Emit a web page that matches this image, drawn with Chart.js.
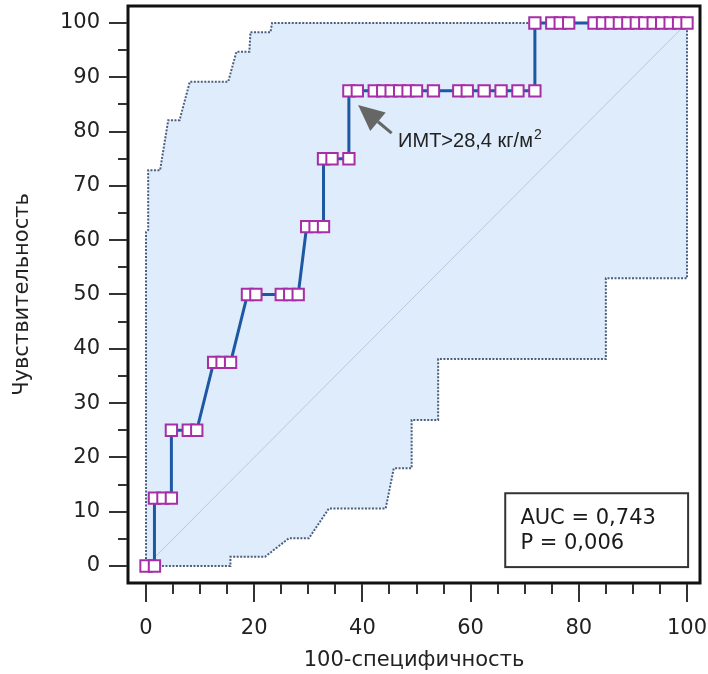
<!DOCTYPE html>
<html>
<head>
<meta charset="utf-8">
<script src="https://cdn.jsdelivr.net/npm/chart.js@4.4.1/dist/chart.umd.min.js"></script>
<style>
  html, body { margin: 0; padding: 0; background: #fff; }
  #wrap { width: 708px; height: 674px; }
</style>
</head>
<body>
<div id="wrap"><canvas id="roc" width="708" height="674"></canvas></div>
<script>
// ROC-кривая: 100-специфичность (x) против чувствительности (y)
const rocX = [0, 1.56, 1.56, 3.13, 4.69, 4.69, 7.81, 9.38, 12.5, 14.06, 15.63,
  18.75, 20.31, 25, 26.56, 28.13, 29.69, 31.25, 32.81, 32.81, 34.38, 37.5,
  37.5, 39.06, 42.19, 43.75, 45.31, 46.88, 48.44, 50, 53.13, 57.81, 59.38, 62.5, 65.63, 68.75, 71.88,
  71.88, 75, 76.56, 78.13, 82.81, 84.38, 85.94, 87.5, 89.06, 90.63, 92.19, 93.75, 95.31, 96.88, 98.44, 100];
const rocY = [0, 0, 12.5, 12.5, 12.5, 25, 25, 25, 37.5, 37.5, 37.5,
  50, 50, 50, 50, 50, 62.5, 62.5, 62.5, 75, 75, 75,
  87.5, 87.5, 87.5, 87.5, 87.5, 87.5, 87.5, 87.5, 87.5, 87.5, 87.5, 87.5, 87.5, 87.5, 87.5,
  100, 100, 100, 100, 100, 100, 100, 100, 100, 100, 100, 100, 100, 100, 100, 100];

// 95% доверительный интервал (верхняя и нижняя границы)
const ciUpperX = [0, 0, 0.4, 0.4, 2.6, 4.1, 6.2, 8.1, 15.2, 16.7, 19.1, 19.3, 23.0, 23.3, 100];
const ciUpperY = [0, 61.5, 61.9, 72.9, 72.9, 82.1, 82.1, 89.2, 89.2, 94.7, 94.7, 98.3, 98.3, 100, 100];
const ciLowerX = [0, 15.6, 15.6, 22.0, 26.4, 30.1, 33.8, 44.3, 45.8, 49.1, 49.1, 54.0, 54.0, 85.0, 85.0, 100, 100];
const ciLowerY = [0, 0, 1.7, 1.7, 5.1, 5.1, 10.6, 10.6, 18.0, 18.0, 26.9, 26.9, 38.1, 38.1, 53.0, 53.0, 100];

const diagX = [0, 100];
const diagY = [0, 100];

const xTickValues = [0, 20, 40, 60, 80, 100];
const yTickValues = [0, 10, 20, 30, 40, 50, 60, 70, 80, 90, 100];

const aucText = ['AUC = 0,743', 'P = 0,006'];
const cutoffLabel = 'ИМТ>28,4 кг/м';
const cutoffSup = '2';

const toPts = (xs, ys) => xs.map((v, i) => ({ x: v, y: ys[i] }));

// полигон полосы: верхняя граница, затем нижняя в обратном порядке
const bandPts = toPts(ciUpperX, ciUpperY).concat(toPts(ciLowerX, ciLowerY).reverse());

const axisFont = { family: 'DejaVu Sans', size: 21 };
const textColor = '#222';

const decor = {
  id: 'rocDecor',
  afterDraw(chart) {
    const { ctx, chartArea: a, scales: { x, y } } = chart;
    ctx.save();

    // стрелка к точке отсечения
    const tip = { x: x.getPixelForValue(39.2), y: y.getPixelForValue(84.9) };
    const tail = { x: x.getPixelForValue(45.4), y: y.getPixelForValue(79.7) };
    const ang = Math.atan2(tip.y - tail.y, tip.x - tail.x);
    const headLen = 26, headW = 12;
    const bx = tip.x - Math.cos(ang) * headLen, by = tip.y - Math.sin(ang) * headLen;
    ctx.strokeStyle = '#666'; ctx.fillStyle = '#666'; ctx.lineWidth = 3;
    ctx.beginPath(); ctx.moveTo(tail.x, tail.y); ctx.lineTo(bx, by); ctx.stroke();
    ctx.beginPath();
    ctx.moveTo(tip.x, tip.y);
    ctx.lineTo(bx + Math.sin(ang) * headW, by - Math.cos(ang) * headW);
    ctx.lineTo(bx - Math.sin(ang) * headW, by + Math.cos(ang) * headW);
    ctx.closePath(); ctx.fill();

    ctx.fillStyle = textColor;
    ctx.textBaseline = 'alphabetic'; ctx.textAlign = 'left';
    ctx.font = '20px "Liberation Sans"';
    const lx = x.getPixelForValue(46.6), ly = y.getPixelForValue(77.2);
    ctx.fillText(cutoffLabel, lx, ly);
    const w = ctx.measureText(cutoffLabel).width;
    ctx.font = '14px "Liberation Sans"';
    ctx.fillText(cutoffSup, lx + w + 1, ly - 8);

    // рамка с AUC
    const bl = x.getPixelForValue(66.4), br = x.getPixelForValue(100.2);
    const bt = y.getPixelForValue(13.4), bb = y.getPixelForValue(-0.2);
    ctx.fillStyle = '#fff';
    ctx.fillRect(bl, bt, br - bl, bb - bt);
    ctx.strokeStyle = '#333'; ctx.lineWidth = 2;
    ctx.strokeRect(bl, bt, br - bl, bb - bt);
    ctx.fillStyle = '#1a1a1a';
    ctx.font = '21px "DejaVu Sans"';
    ctx.fillText(aucText[0], x.getPixelForValue(69.2), y.getPixelForValue(7.8));
    ctx.fillText(aucText[1], x.getPixelForValue(69.2), y.getPixelForValue(3.2));

    // рамка области графика
    ctx.strokeStyle = '#111'; ctx.lineWidth = 3;
    ctx.strokeRect(a.left, a.top, a.right - a.left, a.bottom - a.top);

    // засечки осей снаружи рамки
    ctx.strokeStyle = '#333'; ctx.lineWidth = 2;
    ctx.beginPath();
    for (let v = 0; v <= 100; v += 5) {
      const px = Math.round(x.getPixelForValue(v));
      const len = v % 20 === 0 ? 19 : 11;
      ctx.moveTo(px, a.bottom + 1); ctx.lineTo(px, a.bottom + len);
      const py = Math.round(y.getPixelForValue(v));
      const ylen = v % 10 === 0 ? 19 : 10;
      ctx.moveTo(a.left - 1, py); ctx.lineTo(a.left - ylen, py);
    }
    ctx.stroke();
    ctx.restore();
  }
};

new Chart(document.getElementById('roc'), {
  type: 'scatter',
  data: {
    datasets: [
      {
        data: toPts(rocX, rocY),
        showLine: true,
        borderColor: '#1d58a3',
        borderWidth: 3,
        pointStyle: 'rect',
        pointRadius: 8,
        pointBorderWidth: 2,
        pointBorderColor: '#a62ea6',
        pointBackgroundColor: '#fff'
      },
      {
        data: toPts(diagX, diagY),
        showLine: true,
        borderColor: '#b9c9dc',
        borderWidth: 1,
        pointRadius: 0
      },
      {
        data: bandPts,
        showLine: true,
        fill: 'shape',
        backgroundColor: '#dfecfb',
        borderColor: '#4b5f80',
        borderWidth: 2,
        borderDash: [2, 1.5],
        pointRadius: 0
      }
    ]
  },
  options: {
    responsive: false,
    animation: false,
    devicePixelRatio: 1,
    layout: { autoPadding: false, padding: { left: 0, right: 8, top: 6, bottom: 0 } },
    plugins: { legend: { display: false }, tooltip: { enabled: false } },
    scales: {
      x: {
        type: 'linear',
        min: -3.33,
        max: 102.4,
        grid: { display: false, drawTicks: false },
        border: { display: false },
        afterBuildTicks: s => { s.ticks = xTickValues.map(v => ({ value: v })); },
        afterFit: s => { s.height = 91; s.paddingLeft = 0; s.paddingRight = 0; },
        ticks: { font: axisFont, color: textColor, padding: 33, maxRotation: 0, autoSkip: false },
        title: { display: true, text: '100-специфичность', font: axisFont, color: textColor, padding: { top: 0, bottom: 1 } }
      },
      y: {
        type: 'linear',
        min: -3.13,
        max: 103.13,
        grid: { display: false, drawTicks: false },
        border: { display: false },
        afterBuildTicks: s => { s.ticks = yTickValues.map(v => ({ value: v })); },
        afterFit: s => { s.width = 128; s.paddingTop = 0; s.paddingBottom = 0; },
        ticks: { font: axisFont, color: textColor, padding: 28, autoSkip: false },
        title: { display: true, text: 'Чувствительность', font: axisFont, color: textColor, padding: { top: 10, bottom: 0 } }
      }
    }
  },
  plugins: [decor]
});
</script>
</body>
</html>
